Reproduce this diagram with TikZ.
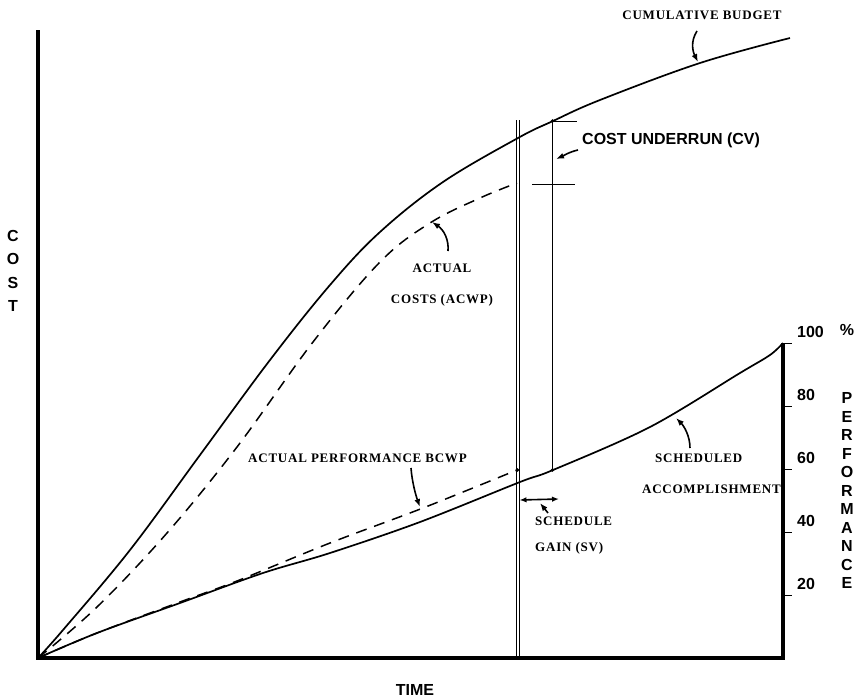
\documentclass[tikz,border=0pt]{standalone}
\usepackage{fontspec}
\setmainfont{Liberation Serif}
\newfontfamily\labelserif[LetterSpace=6]{Liberation Serif}
\newfontfamily\labelsans{Liberation Sans}
\usetikzlibrary{arrows.meta}
\begin{document}
\begin{tikzpicture}[x=1pt,y=-1pt,
  axisline/.style={line width=3.2pt},
  curve/.style={line width=1.7pt,line join=round},
  dashcurve/.style={line width=1.5pt,dash pattern=on 11pt off 8pt},
  guide/.style={line width=0.7pt},
  pointer/.style={line width=1.6pt,-{Latex[length=8pt,width=6pt]}},
  serif/.style={font=\labelserif\bfseries\fontsize{13}{15}\selectfont,inner sep=0pt},
  sans/.style={font=\labelsans\bfseries\fontsize{16}{18}\selectfont,inner sep=0pt},
  dot/.style={circle,fill,inner sep=1.3pt}]
\useasboundingbox (0,0) rectangle (863,699);

% axes
\coordinate (O) at (38,658);
\coordinate (ytop) at (38,30);
\coordinate (xend) at (783,658);
\coordinate (ptop) at (783,343);
\draw[axisline] (ytop) -- (O) -- (xend) -- (ptop);

% performance scale
\foreach \v/\y in {100/343,80/406,60/469,40/532,20/595}{
  \draw[line width=0.8pt] (783,\y) -- (792,\y);
  \node[sans,anchor=west] at (797,\y-11) {\v};
}
\node[sans] at (847,330) {\%};
\foreach \ch [count=\i from 0] in {P,E,R,F,O,R,M,A,N,C,E}{
  \node[sans] at (847,398+18.5*\i) {\ch};
}
\foreach \ch [count=\i from 0] in {C,O,S,T}{
  \node[sans] at (13,236+23.3*\i) {\ch};
}
\node[sans] (time) at (415,690) {TIME};

% cumulative budget
\draw[curve] plot[smooth,tension=0.6] coordinates {
  (38,658) (63,630) (130,550) (200,455) (270,360) (330,285) (380,232)
  (443,182) (518,138) (553,121) (600,100) (700,63) (790,38)};
% actual costs (ACWP)
\draw[dashcurve] plot[smooth,tension=0.6] coordinates {
  (38,658) (97,607) (167,533) (237,447) (313,342) (380,262)
  (430,223) (480,198) (517,183)};
% scheduled accomplishment
\draw[curve] plot[smooth,tension=0.55] coordinates {
  (38,658) (97,633) (180,603) (263,573) (330,553) (420,522)
  (520,482) (553,470) (650,427) (740,373) (770,355) (783,343)};
% actual performance (BCWP)
\draw[dashcurve] plot[smooth,tension=0.55] coordinates {
  (38,658) (97,633) (180,602) (237,581) (330,543) (423,508) (517,470)};

% status date lines
\coordinate (s1) at (516,120);
\coordinate (s1b) at (516,658);
\coordinate (s2) at (519.5,120);
\coordinate (s2b) at (519.5,658);
\draw[guide] (s1) -- (s1b);
\draw[guide] (s2) -- (s2b);
\coordinate (e1) at (552.5,121);
\coordinate (e2) at (552.5,470);
\draw[guide] (e1) -- (e2);
\node[dot] (bcws) at (552.5,121) {};
\node[dot] (sched) at (552.5,470) {};
\node[dot] (bcwp) at (517.5,470) {};
\coordinate (t1a) at (552,121);
\coordinate (t1b) at (577,121);
\draw[guide] (t1a) -- (t1b);
\coordinate (t2a) at (532,184);
\coordinate (t2b) at (575,184);
\draw[guide] (t2a) -- (t2b);

% labels and pointers
\node[serif] (cumlab) at (702,15) {CUMULATIVE BUDGET};
\coordinate (cumtip) at (698,62);
\draw[pointer] (697,31) .. controls (690,42) and (693,52) .. (cumtip);

\node[sans,anchor=west] (cvlab) at (582,140) {COST UNDERRUN (CV)};
\coordinate (cvtip) at (556,159);
\draw[pointer] (578,150) .. controls (569,152) and (563,156) .. (cvtip);

\node[serif] (aclab1) at (442,268) {ACTUAL};
\node[serif] (aclab2) at (442,300) {COSTS (ACWP)};
\coordinate (actip) at (432,222);
\draw[pointer] (448,251) .. controls (449,240) and (444,230) .. (actip);

\node[serif,anchor=west] (bcwplab) at (248,458) {ACTUAL PERFORMANCE BCWP};
\coordinate (bcwptip) at (420,507);
\draw[pointer] (411,468) .. controls (412,482) and (416,496) .. (bcwptip);

\node[serif,anchor=west] (schlab1) at (655,458) {SCHEDULED};
\node[serif,anchor=east] (schlab2) at (781,489) {ACCOMPLISHMENT};
\coordinate (schtip) at (676,418);
\draw[pointer] (690,448) .. controls (690,436) and (684,426) .. (schtip);

\node[serif,anchor=west] (svlab1) at (535,521) {SCHEDULE};
\node[serif,anchor=west] (svlab2) at (535,548) {GAIN (SV)};
\coordinate (sva) at (519.5,500);
\coordinate (svb) at (559,499);
\draw[line width=1.6pt,{Latex[length=7pt,width=5.5pt]}-{Latex[length=7pt,width=5.5pt]}] (sva) -- (svb);
\coordinate (svtip) at (540,503);
\draw[pointer] (548,513) -- (svtip);
\end{tikzpicture}
\end{document}
